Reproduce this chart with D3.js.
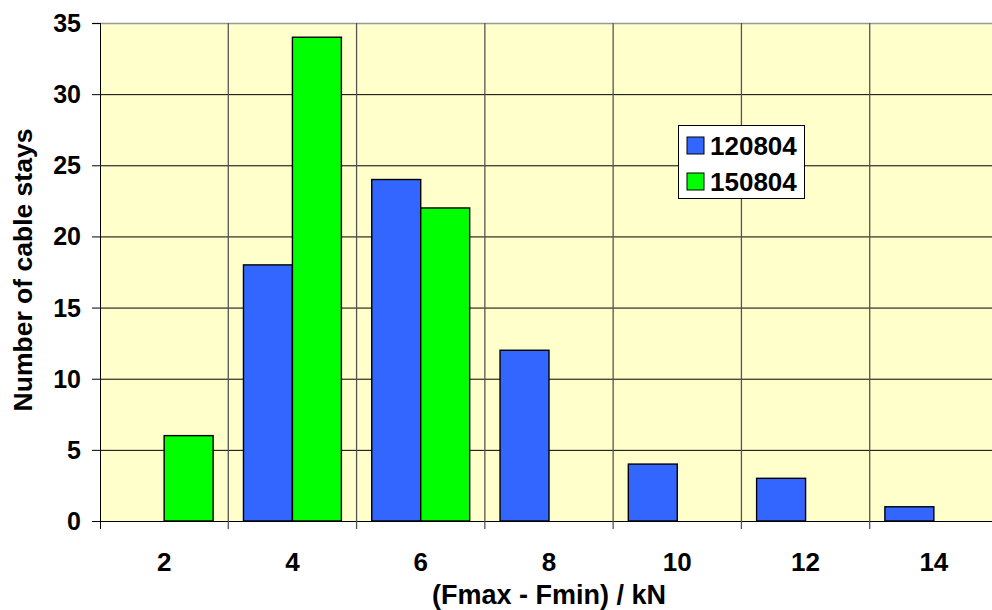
<!DOCTYPE html>
<html><head><meta charset="utf-8">
<script src="https://cdn.jsdelivr.net/npm/d3@7"></script>
<style>body{margin:0;background:#fff;} text{font-family:"Liberation Sans",Arial,sans-serif;font-weight:bold;fill:#000;}</style>
</head><body><svg id="c" width="992" height="610"></svg>
<script>
const categories = ["2","4","6","8","10","12","14"];
const seriesNames = ["120804","150804"];
const values120804 = [0,18,24,12,4,3,1];
const values150804 = [6,34,22,0,0,0,0];
const yTicks = [0,5,10,15,20,25,30,35];
const colors = ["#3366FF","#00FF00"];

const svg = d3.select("#c");
const L=100, R=998, T=23, B=521;
const x = d3.scaleBand().domain(categories).range([L,R]).padding(0);
const x1 = d3.scaleBand().domain(seriesNames).range([0,x.bandwidth()]).paddingInner(0).paddingOuter(0.31);
const y = d3.scaleLinear().domain([0,35]).range([B,T]);

svg.append("rect").attr("x",L).attr("y",T).attr("width",R-L).attr("height",B-T).attr("fill","#FFFFCC");
svg.selectAll(".hg").data(yTicks).enter().append("line")
  .attr("x1",L-8).attr("x2",R).attr("y1",d=>y(d)+0.5).attr("y2",d=>y(d)+0.5)
  .attr("stroke",d=>d===35?"#999":"#000").attr("stroke-width",d=>d===35?1.5:1);
const bounds = categories.slice(1).map(c=>x(c));
svg.selectAll(".vg").data(bounds).enter().append("line")
  .attr("x1",d=>d).attr("x2",d=>d).attr("y1",T).attr("y2",B+8)
  .attr("stroke","#555").attr("stroke-width",1.3);
svg.append("line").attr("x1",L-8).attr("x2",L).attr("y1",y(35)+0.5).attr("y2",y(35)+0.5).attr("stroke","#000");
svg.append("line").attr("x1",L+0.5).attr("x2",L+0.5).attr("y1",T).attr("y2",B+8).attr("stroke","#000");

const data = [values120804, values150804];
data.forEach((vals,si)=>{
  svg.selectAll(".b"+si).data(vals.map((v,i)=>({c:categories[i],v}))).enter()
    .filter(d=>d.v>0).append("rect")
    .attr("x",d=>x(d.c)+x1(seriesNames[si])).attr("width",x1.bandwidth())
    .attr("y",d=>y(d.v)).attr("height",d=>B-y(d.v))
    .attr("fill",colors[si]).attr("stroke","#000").attr("stroke-width",1.4);
});

svg.selectAll(".yl").data(yTicks).enter().append("text")
  .attr("x",81).attr("y",d=>y(d)).attr("dy","0.36em").attr("text-anchor","end")
  .style("font-size","25px").text(d=>d);
svg.selectAll(".xl").data(categories).enter().append("text")
  .attr("x",d=>x(d)+x.bandwidth()/2).attr("y",571).attr("text-anchor","middle")
  .style("font-size","26px").text(d=>d);
svg.append("text").attr("x",549).attr("y",604).attr("text-anchor","middle")
  .style("font-size","27px").text("(Fmax - Fmin) / kN");
svg.append("text").attr("transform","translate(32,270) rotate(-90)").attr("text-anchor","middle")
  .style("font-size","26.5px").text("Number of cable stays");

const lg = svg.append("g");
lg.append("rect").attr("x",678.5).attr("y",125.5).attr("width",126).attr("height",73).attr("fill","#fff").attr("stroke","#000");
seriesNames.forEach((n,i)=>{
  lg.append("rect").attr("x",687).attr("y",137+i*36).attr("width",17).attr("height",17).attr("fill",colors[i]).attr("stroke","#000");
  lg.append("text").attr("x",710).attr("y",155+i*36).style("font-size","26px").text(n);
});
</script></body></html>
